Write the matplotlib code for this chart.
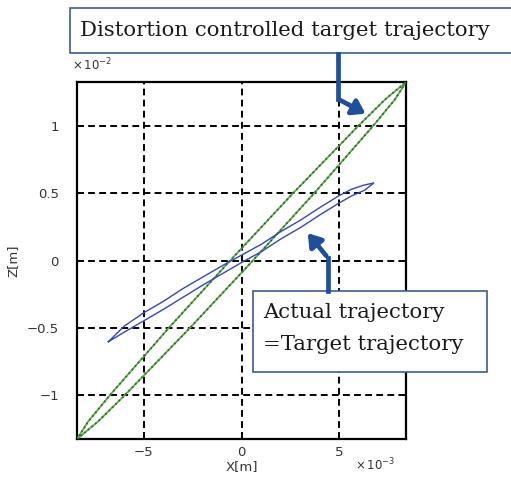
import matplotlib.pyplot as plt
from matplotlib.patches import FancyArrowPatch, Rectangle

# target trajectory after distortion control (x in 1e-3 m, z in 1e-2 m), closed loop
green_x = [-8.40, -7.33, -5.94, -2.62, 0.58, 3.70, 6.70, 7.83, 8.40,
           7.33, 5.94, 2.62, -0.58, -3.70, -6.70, -7.83, -8.40]
green_z = [-1.33, -1.20, -1.00, -0.50, 0.00, 0.50, 1.00, 1.20, 1.33,
           1.20, 1.00, 0.50, 0.00, -0.50, -1.00, -1.20, -1.33]

# actual trajectory (= original target trajectory)
blue_x = [-6.80, -6.00, -5.00, -4.00, -3.00, -2.00, -1.00, 0.00, 1.00, 2.00,
          3.00, 4.00, 5.00, 5.60, 6.20, 6.75,
          6.30, 5.60, 5.00, 4.00, 3.00, 2.00, 1.00, 0.00, -1.00, -2.00,
          -3.00, -4.00, -5.00, -6.00, -6.80]
blue_z = [-0.605, -0.490, -0.390, -0.305, -0.210, -0.125, -0.040, 0.040, 0.120, 0.215,
          0.300, 0.395, 0.485, 0.530, 0.560, 0.578,
          0.525, 0.480, 0.430, 0.340, 0.245, 0.160, 0.065, -0.015, -0.100, -0.185,
          -0.275, -0.365, -0.450, -0.535, -0.605]

x_ticks = [-5, 0, 5]
z_ticks = [-1, -0.5, 0, 0.5, 1]

W, H = 511, 479


def fx(px):
    return px / W


def fy(py):
    return 1 - py / H


fig = plt.figure(figsize=(5.11, 4.79), dpi=100)
ax = fig.add_axes([0.1507, 0.0835, 0.644, 0.7453])

ax.plot(green_x, green_z, color='#62a84e', lw=1.3, zorder=3)
ax.plot(green_x, green_z, color='#2a7025', lw=1.3, ls=(0, (1, 1.6)), zorder=3)
ax.plot(blue_x, blue_z, color='#3346c0', lw=1.0, zorder=4)

ax.set_xlim(-8.4, 8.4)
ax.set_ylim(-1.33, 1.33)
ax.set_xticks(x_ticks)
ax.set_yticks(z_ticks)
ax.set_xticklabels(['\u22125', '0', '5'])
ax.set_yticklabels(['\u22121', '\u22120.5', '0', '0.5', '1'])
ax.tick_params(direction='in', length=5, width=1.2, labelsize=9.5, colors='black',
               labelcolor='#333333')
ax.tick_params(axis='x', pad=5)
ax.tick_params(axis='y', pad=13)
ax.grid(True, color='black', lw=1.4, ls=(0, (3.5, 2.2)))
for s in ax.spines.values():
    s.set_linewidth(1.6)

ax.set_xlabel('X[m]', fontsize=9.5, color='#333333', labelpad=1)
ax.set_ylabel('Z[m]', fontsize=9.5, color='#333333', labelpad=5)
fig.text(fx(72), fy(65), r'$\times\,10^{-2}$', fontsize=8.5, color='#333333',
         ha='left', va='center')
fig.text(fx(355), fy(465), r'$\times\,10^{-3}$', fontsize=8.5, color='#333333',
         ha='left', va='center')

# callout boxes
box_ec = '#3c5a9c'
fig.add_artist(Rectangle((fx(70), fy(53)), fx(460), 45 / H, transform=fig.transFigure,
                         fc='white', ec=box_ec, lw=1.2, zorder=5))
fig.add_artist(Rectangle((fx(253), fy(372)), fx(234), 81 / H, transform=fig.transFigure,
                         fc='white', ec=box_ec, lw=1.2, zorder=5))
fig.text(fx(80), fy(31), 'Distortion controlled target trajectory',
         family='DejaVu Serif', fontsize=15.3, color='#1a1a1a', ha='left', va='center',
         zorder=6)
fig.text(fx(263), fy(313), 'Actual trajectory', family='DejaVu Serif', fontsize=15.3,
         color='#1a1a1a', ha='left', va='center', zorder=6)
fig.text(fx(263), fy(344), '=Target trajectory', family='DejaVu Serif', fontsize=15.3,
         color='#1a1a1a', ha='left', va='center', zorder=6)

# arrows pointing from the boxes to the curves
arrow_col = '#1f4e9a'
head = '-|>,head_length=7.5,head_width=5'
fig.add_artist(plt.Line2D([fx(338), fx(338)], [fy(54), fy(99)],
                          color=arrow_col, lw=3.4, transform=fig.transFigure, zorder=7))
fig.add_artist(FancyArrowPatch((fx(338), fy(99)), (fx(368), fy(115)),
                               transform=fig.transFigure, color=arrow_col, lw=3.4,
                               arrowstyle=head, zorder=7))
fig.add_artist(plt.Line2D([fx(328), fx(328)], [fy(291), fy(258)],
                          color=arrow_col, lw=3.4, transform=fig.transFigure, zorder=7))
fig.add_artist(FancyArrowPatch((fx(328), fy(258)), (fx(306), fy(231)),
                               transform=fig.transFigure, color=arrow_col, lw=3.4,
                               arrowstyle=head, zorder=7))

fig.savefig('out.png', dpi=100)
